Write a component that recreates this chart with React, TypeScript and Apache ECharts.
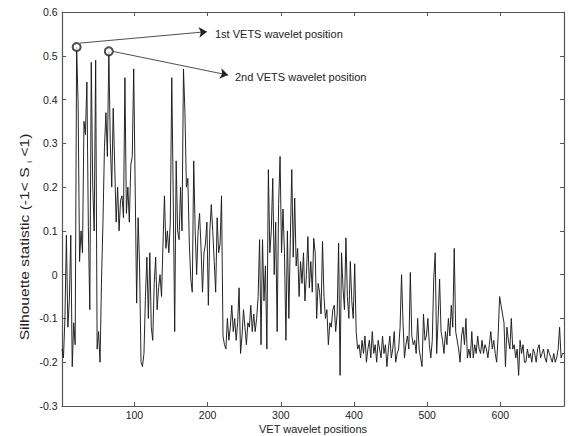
import React, { useEffect, useRef } from "react";
import * as echarts from "echarts";

// Positions sampled every 2 wavelet positions, starting at 1
const positionStart = 1;
const positionStep = 2;

// Silhouette statistic values (positions 1, 3, 5, ... 687)
const silhouette = [
  -0.17, -0.19, -0.1, 0.09, -0.12, -0.06, 0.09, -0.21, -0.11, -0.16,
  0.52, 0.39, 0.03, 0.1, 0.05, 0.35, 0.32, 0.44, 0.11, -0.08,
  0.485, 0.2, 0.1, 0.49, -0.17, -0.13, -0.2, -0.01, 0.12, 0.29,
  0.37, 0.27, 0.51, 0.3, 0.2, 0.38, 0.25, 0.12, 0.2, 0.1,
  0.17, 0.18, 0.13, 0.45, 0.14, 0.2, 0.12, 0.25, 0.27, 0.47,
  0.2, -0.065, 0.13, 0.02, -0.2, -0.21, -0.18, -0.05, 0.04, -0.1,
  0.05, -0.12, -0.15, -0.02, 0.04, -0.08, -0.03, 0.0, -0.05, 0.07,
  0.18, 0.06, 0.1, 0.05, 0.12, 0.45, 0.18, -0.13, 0.26, 0.1,
  0.08, 0.2, 0.1, 0.47, 0.37, 0.2, 0.22, 0.07, -0.01, -0.04,
  0.26, 0.1, 0.0, 0.1, 0.14, 0.06, -0.04, 0.05, 0.07, 0.12,
  -0.07, 0.1, 0.16, 0.1, 0.03, -0.04, 0.13, 0.05, 0.07, 0.18,
  -0.14, -0.16, -0.17, -0.1, -0.15, -0.12, -0.07, -0.13, -0.1, -0.15,
  -0.11, -0.03, -0.18, -0.14, -0.08, -0.12, -0.16, -0.11, -0.12, -0.07,
  -0.13, -0.09, -0.13, -0.1, -0.05, 0.08, -0.16, 0.08, -0.06, 0.02,
  -0.17, 0.24, 0.05, 0.1, 0.22, 0.0, 0.12, -0.13, 0.16, 0.27,
  0.05, 0.15, 0.05, -0.15, 0.1, -0.1, 0.08, 0.24, 0.04, 0.175,
  0.02, 0.06, -0.05, 0.03, -0.02, 0.05, -0.06, 0.0, 0.087, -0.03,
  0.03, -0.04, 0.083, 0.05, -0.1, -0.02, -0.04, -0.09, 0.076, -0.05,
  -0.1, -0.08, -0.16, -0.11, -0.12, -0.08, -0.07, -0.13, -0.09, 0.072,
  -0.23, 0.05, -0.03, -0.08, 0.084, -0.05, -0.1, 0.03, -0.06, -0.1,
  0.025, -0.13, -0.17, -0.16, -0.19, -0.15, -0.18, -0.14, -0.2, -0.17,
  -0.15, -0.19, -0.13, -0.18, -0.16, -0.2, -0.15, -0.17, -0.19, -0.14,
  -0.18, -0.16, -0.21, -0.17, -0.14, -0.19, -0.17, -0.13, -0.2, -0.18,
  -0.17, -0.12, 0.0, -0.11, -0.19, -0.16, -0.14, -0.17, 0.005, -0.14,
  -0.16, -0.15, -0.18, -0.1, -0.17, -0.19, -0.21, -0.09, -0.15, -0.14,
  -0.1, -0.16, -0.19, -0.15, -0.01, 0.05, -0.18, -0.1, -0.01, -0.13,
  -0.15, -0.18, -0.13, -0.16, -0.1, -0.14, -0.07, -0.12, 0.06, -0.13,
  -0.15, -0.17, -0.2, -0.14, -0.12, -0.16, -0.1, -0.19, -0.17, -0.19,
  -0.13, -0.19, -0.16, -0.18, -0.14, -0.17, -0.18, -0.15, -0.18, -0.16,
  -0.17, -0.19, -0.16, -0.13, -0.17, -0.15, -0.18, -0.2, -0.14, -0.05,
  -0.07, -0.09, -0.11, -0.21, -0.12, -0.15, -0.17, -0.1, -0.17, -0.16,
  -0.19, -0.17, -0.23, -0.15, -0.18, -0.16, -0.2, -0.2, -0.17, -0.19,
  -0.18, -0.2, -0.17, -0.18, -0.2, -0.17, -0.16, -0.19, -0.18, -0.17,
  -0.19, -0.2, -0.17, -0.18, -0.19, -0.2, -0.18, -0.2, -0.19, -0.17,
  -0.12, -0.19, -0.18, -0.18,
];

// Axis ticks
const xTickValues = [100, 200, 300, 400, 500, 600];
const xMin = 1;
const xMax = 687;
const yMin = -0.3;
const yMax = 0.6;
const yInterval = 0.1;

// Highlighted VETS wavelet positions
const vetsPositions = [21, 65];
const vetsValues = [0.52, 0.51];
const vetsLabels = ["1st VETS wavelet position", "2nd VETS wavelet position"];

// Arrow start / end (data coordinates)
const arrowStarts = [
  [25.5, 0.529],
  [70.5, 0.51],
];
const arrowEnds = [
  [199, 0.555],
  [228, 0.456],
];

const FONT = "'Liberation Sans', Arial, sans-serif";

export default function App() {
  const ref = useRef<HTMLDivElement>(null);

  useEffect(() => {
    if (!ref.current) return;
    const chart = echarts.init(ref.current, null, { renderer: "svg" });
    const lineData = silhouette.map((v, i) => [positionStart + i * positionStep, v]);
    const markerData = vetsPositions.map((p, i) => [p, vetsValues[i]]);

    const frameLine = { show: true, lineStyle: { color: "#555", width: 1.2 } };
    const innerTick = { show: true, inside: true, length: 4, lineStyle: { color: "#555", width: 1 } };

    chart.setOption({
      animation: false,
      backgroundColor: "#fff",
      grid: { left: 62, right: 7, top: 12, bottom: 30, containLabel: false },
      xAxis: [
        {
          type: "value",
          min: xMin,
          max: xMax,
          position: "bottom",
          axisLine: { ...frameLine, onZero: false },
          axisTick: { ...innerTick, customValues: xTickValues },
          axisLabel: {
            customValues: xTickValues,
            margin: 3,
            fontSize: 10.5,
            fontFamily: FONT,
            color: "#222",
          },
          splitLine: { show: false },
        },
        {
          type: "value",
          min: xMin,
          max: xMax,
          position: "top",
          axisLine: { ...frameLine, onZero: false },
          axisTick: { ...innerTick, customValues: xTickValues },
          axisLabel: { show: false },
          splitLine: { show: false },
        },
      ],
      yAxis: [
        {
          type: "value",
          min: yMin,
          max: yMax,
          interval: yInterval,
          position: "left",
          axisLine: { ...frameLine, onZero: false },
          axisTick: innerTick,
          axisLabel: {
            margin: 4.5,
            fontSize: 10.5,
            fontFamily: FONT,
            color: "#222",
            formatter: (v: number) => String(Number(v.toFixed(1))),
          },
          splitLine: { show: false },
        },
        {
          type: "value",
          min: yMin,
          max: yMax,
          interval: yInterval,
          position: "right",
          axisLine: { ...frameLine, onZero: false },
          axisTick: innerTick,
          axisLabel: { show: false },
          splitLine: { show: false },
        },
      ],
      series: [
        {
          type: "line",
          data: lineData,
          showSymbol: false,
          symbol: "none",
          lineStyle: { color: "#1a1a1a", width: 0.95 },
          silent: true,
        },
        {
          type: "scatter",
          data: markerData,
          symbol: "emptyCircle",
          symbolSize: 8,
          itemStyle: { color: "#222", borderColor: "#222", borderWidth: 1 },
          silent: true,
          z: 5,
          markLine: {
            silent: true,
            symbol: ["none", "arrow"],
            symbolSize: 8,
            label: { show: false },
            itemStyle: { color: "#222" },
            lineStyle: { color: "#222", width: 0.8, type: "solid" },
            data: arrowStarts.map((s, i) => [{ coord: s }, { coord: arrowEnds[i] }]),
          },
        },
      ],
      graphic: [
        {
          type: "text",
          x: 215,
          y: 34,
          style: {
            text: vetsLabels[0],
            fontSize: 11,
            fontFamily: FONT,
            fill: "#222",
            align: "left",
            verticalAlign: "middle",
          },
        },
        {
          type: "text",
          x: 235,
          y: 77,
          style: {
            text: vetsLabels[1],
            fontSize: 11,
            fontFamily: FONT,
            fill: "#222",
            align: "left",
            verticalAlign: "middle",
          },
        },
        {
          type: "text",
          x: 313,
          y: 429,
          style: {
            text: "VET wavelet positions",
            fontSize: 11,
            fontFamily: FONT,
            fill: "#222",
            align: "center",
            verticalAlign: "middle",
          },
        },
        {
          type: "text",
          x: 25,
          y: 237,
          rotation: Math.PI / 2,
          scaleX: 1.3,
          style: {
            text: "Silhouette statistic (-1< S {sub|i} <1)",
            fontSize: 12,
            fontFamily: FONT,
            fill: "#222",
            align: "center",
            verticalAlign: "middle",
            rich: {
              sub: { fontSize: 7.5, fontFamily: FONT, fill: "#222", padding: [8, 0, 0, 0] },
            },
          },
        },
      ],
    });
    return () => chart.dispose();
  }, []);

  return (
    <div
      ref={ref}
      style={{ position: "fixed", left: 0, top: 0, width: 571, height: 436, background: "#fff" }}
    />
  );
}
